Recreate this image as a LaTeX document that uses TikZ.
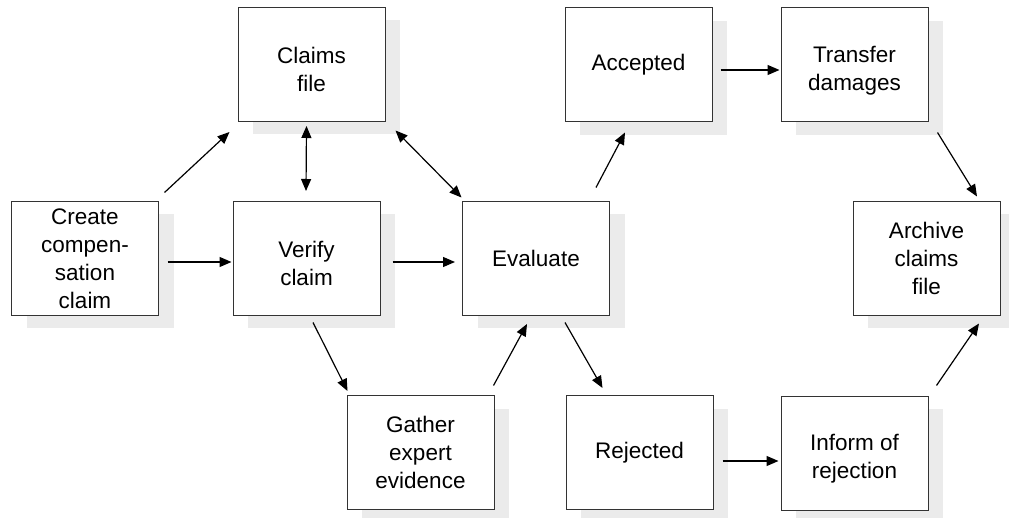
\documentclass[tikz,border=0pt]{standalone}
\usepackage{fontspec}
\setmainfont{Liberation Sans}
\usetikzlibrary{arrows.meta,shadows}
\definecolor{shgray}{HTML}{EBEBEB}
\definecolor{boxline}{HTML}{333333}
\tikzset{
  proc/.style={draw=boxline, line width=1pt, fill=white, minimum width=147pt, minimum height=114pt,
    inner sep=0pt, align=center, font=\fontsize{22.5}{28}\selectfont,
    drop shadow={shadow xshift=15pt, shadow yshift=-13pt, fill=shgray, draw=none, opacity=1}},
  lowtext/.style={text height=55pt},
  arr/.style={line width=1.2pt, -{Triangle[length=12pt,width=10pt]}},
  darr/.style={line width=1.2pt, {Triangle[length=12pt,width=10pt]}-{Triangle[length=12pt,width=10pt]}}
}
\begin{document}
\begin{tikzpicture}[x=1pt,y=-1pt]
\useasboundingbox (0,0) rectangle (1009,518);
\node[proc] (create)   at (85,258.5)  {Create\\compen-\\sation\\claim};
\node[proc,lowtext] (claims)   at (311.5,64.5) {Claims\\file};
\node[proc,lowtext] (verify)   at (306.5,258.5) {Verify\\claim};
\node[proc] (evaluate) at (536,258.5) {Evaluate};
\node[proc] (gather)   at (420.5,452.5) {Gather\\expert\\evidence};
\node[proc] (accepted) at (638.5,65) {Accepted};
\node[proc,lowtext] (transfer) at (854.5,65) {Transfer\\damages};
\node[proc] (rejected) at (639.5,452.5) {Rejected};
\node[proc,lowtext] (inform)   at (854.5,453) {Inform of\\rejection};
\node[proc] (archive)  at (926.5,258.5) {Archive\\claims\\file};

\draw[arr] ([shift={(5.5,-8.5)}]create.north east) -- ([shift={(-8,10)}]claims.south west);
\draw[darr] ([shift={(-5,4)}]claims.south) -- ([shift={(-0.5,-10)}]verify.north);
\draw[darr] ([shift={(10,8.5)}]claims.south east) -- ([shift={(-0.5,-3.5)}]evaluate.north west);
\draw[arr] ([shift={(8.5,3.5)}]create.east) -- ([shift={(-1,3.5)}]verify.west);
\draw[arr] ([shift={(12,3.5)}]verify.east) -- ([shift={(-7,3.5)}]evaluate.west);
\draw[arr] ([shift={(6.5,6.5)}]verify.south) -- ([shift={(1,-4)}]gather.north west);
\draw[arr] ([shift={(-1,-9.5)}]gather.north east) -- ([shift={(-9,8)}]evaluate.south);
\draw[arr] ([shift={(-14,-13.5)}]evaluate.north east) -- ([shift={(-13.5,10)}]accepted.south);
\draw[arr] ([shift={(29,6.5)}]evaluate.south) -- ([shift={(-37,-7)}]rejected.north);
\draw[arr] ([shift={(8,5)}]accepted.east) -- ([shift={(-1,5)}]transfer.west);
\draw[arr] ([shift={(9,10)}]transfer.south east) -- ([shift={(50.5,-4.5)}]archive.north);
\draw[arr] ([shift={(9,8.5)}]rejected.east) -- ([shift={(-2,8)}]inform.west);
\draw[arr] ([shift={(8,-10)}]inform.north east) -- ([shift={(52.5,7.5)}]archive.south);
\end{tikzpicture}
\end{document}
